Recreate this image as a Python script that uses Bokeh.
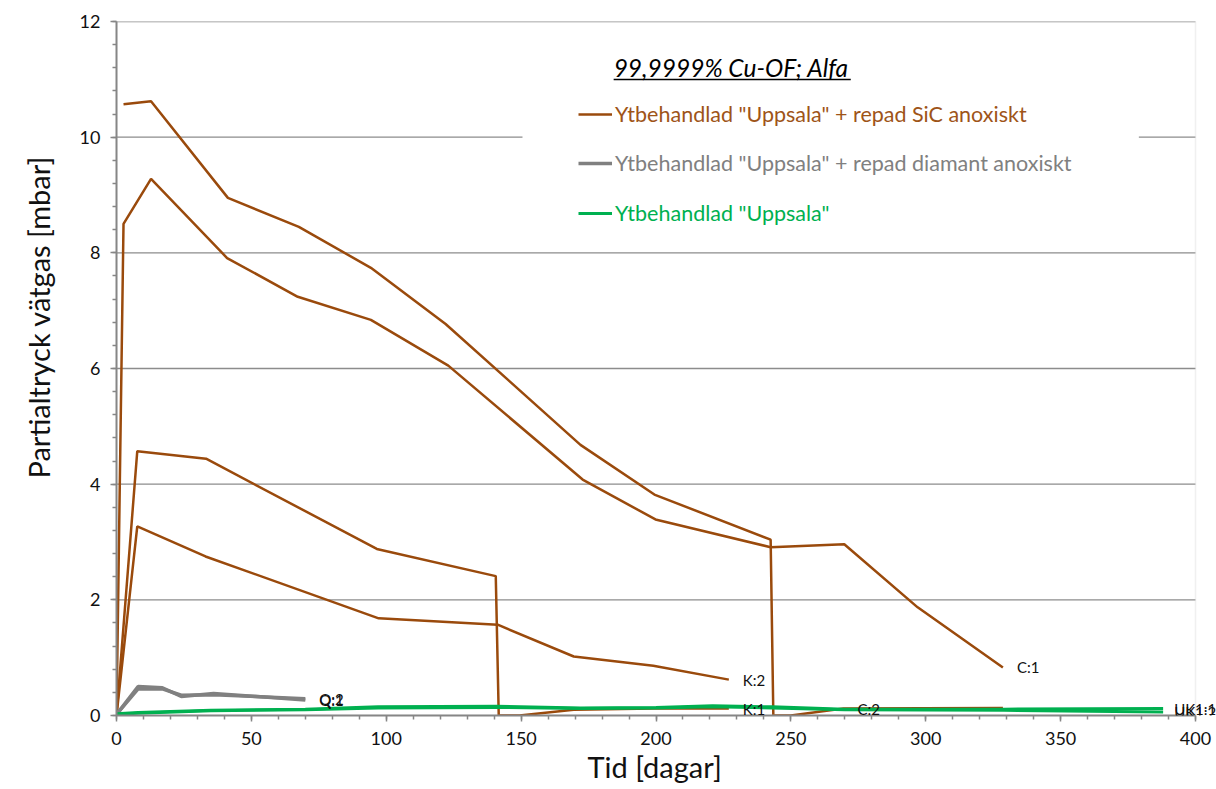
from bokeh.plotting import figure
from bokeh.models import (Range1d, Label, Legend, LegendItem, BoxAnnotation,
                          SingleIntervalTicker, Title)
from bokeh.embed import file_html
from bokeh.resources import INLINE

# ---------------- data ----------------
c1_x = [0, 2.6, 12.8, 41.0, 67.2, 94.3, 123.0, 172.8, 199.8, 242.5, 269.8, 297.0, 328.6]
c1_y = [0.0, 8.50, 9.28, 7.91, 7.24, 6.84, 6.05, 4.08, 3.39, 2.91, 2.96, 1.87, 0.83]

c2_x = [2.6, 12.8, 41.3, 67.6, 94.3, 122.0, 172.0, 199.4, 242.5, 243.5, 250.0, 269.5, 328.6]
c2_y = [10.57, 10.62, 8.95, 8.45, 7.74, 6.77, 4.68, 3.82, 3.04, 0.0, 0.0, 0.12, 0.13]

k1_x = [0, 7.7, 33.2, 96.5, 140.6, 141.7, 149.4, 169.5, 199.0, 227.0]
k1_y = [0.0, 4.57, 4.44, 2.88, 2.41, 0.0, 0.0, 0.10, 0.12, 0.12]

k2_x = [0, 7.7, 33.0, 97.2, 141.3, 169.5, 199.0, 227.0]
k2_y = [0.0, 3.27, 2.75, 1.68, 1.57, 1.02, 0.86, 0.62]

q_x = [0, 8, 17, 24, 36, 70]
q1_y = [0.02, 0.50, 0.48, 0.33, 0.38, 0.27]
q2_y = [0.02, 0.46, 0.46, 0.35, 0.36, 0.29]

uk_x = [0, 8, 35, 70, 97, 141, 172, 200, 221, 243, 270, 329, 388]
uk1_y = [0.03, 0.05, 0.09, 0.11, 0.15, 0.16, 0.13, 0.14, 0.17, 0.15, 0.11, 0.11, 0.12]
uk2_y = [0.02, 0.04, 0.08, 0.10, 0.13, 0.14, 0.12, 0.13, 0.15, 0.13, 0.10, 0.09, 0.06]

legend_title = "99,9999% Cu-OF; Alfa"
legend_labels = ['Ytbehandlad "Uppsala" + repad SiC anoxiskt',
                 'Ytbehandlad "Uppsala" + repad diamant anoxiskt',
                 'Ytbehandlad "Uppsala"']
x_title = "Tid [dagar]"
y_title = "Partialtryck vätgas [mbar]"

X_MAX, Y_MAX = 400, 12
grid_levels = list(range(2, Y_MAX + 1, 2))

BROWN = "#9A4A0C"
BROWN_TXT = "#9E5418"
GRAY = "#808080"
GREEN = "#00B050"
FONT = "Lato"

# frame spans 116..1216 px; the x axis (0..400) ends at 1195 px, leaving room for labels
x_end = X_MAX * 1100 / 1079

p = figure(width=1216, height=789, output_backend="svg", toolbar_location=None,
           x_range=Range1d(0, x_end), y_range=Range1d(0, Y_MAX),
           min_border_left=116, min_border_right=0, min_border_top=21,
           min_border_bottom=74)
p.background_fill_color = "white"
p.border_fill_color = "white"
p.outline_line_color = None

# axes
p.xaxis.ticker = SingleIntervalTicker(interval=50, num_minor_ticks=5)
p.yaxis.ticker = SingleIntervalTicker(interval=2, num_minor_ticks=5)
p.xaxis.bounds = (0, X_MAX)
for ax in (p.xaxis, p.yaxis):
    ax.axis_line_color = "#868686"
    ax.axis_line_width = 2
    ax.major_tick_line_color = "#868686"
    ax.minor_tick_line_color = "#868686"
    ax.major_tick_line_width = 1.5
    ax.minor_tick_line_width = 1.5
    ax.major_tick_in = 0
    ax.major_tick_out = 6
    ax.minor_tick_in = 0
    ax.minor_tick_out = 4
    ax.major_label_text_font = FONT
    ax.major_label_text_font_size = "18px"
    ax.major_label_text_color = "#111111"
p.xaxis.major_label_standoff = 10
p.yaxis.major_label_standoff = 10

# axis titles placed like the reference (not centred on the extended frame)
p.add_layout(Title(text=y_title, align="left", offset=237, standoff=38,
                   vertical_align="top",
                   text_font=FONT, text_font_size="29px", text_font_style="normal",
                   text_color="#111111"), "left")
p.add_layout(Title(text=x_title, align="left", offset=471, standoff=2,
                   vertical_align="top",
                   text_font=FONT, text_font_size="29px", text_font_style="normal",
                   text_color="#111111"), "below")

p.xgrid.visible = False
p.ygrid.visible = False

# horizontal grid lines limited to the axis extent, light frame border
p.segment(x0=0, x1=X_MAX, y0=grid_levels, y1=grid_levels,
          line_color="#8c8c8c", line_width=1.4, level="underlay")
p.add_layout(BoxAnnotation(left=0, right=X_MAX, bottom=0, top=Y_MAX,
                           fill_alpha=0.0, line_color="#cccccc", line_width=1.5,
                           level="underlay"))

# white legend background covering grid line
p.add_layout(BoxAnnotation(left=150.5, right=379.0, bottom=8.35, top=11.9,
                           fill_color="white", fill_alpha=1.0, line_color=None))

# series
r_c1 = p.line(c1_x, c1_y, line_color=BROWN, line_width=2.5)
r_c2 = p.line(c2_x, c2_y, line_color=BROWN, line_width=2.5)
r_k1 = p.line(k1_x, k1_y, line_color=BROWN, line_width=2.5)
r_k2 = p.line(k2_x, k2_y, line_color=BROWN, line_width=2.5)
r_q1 = p.line(q_x, q1_y, line_color=GRAY, line_width=3.5)
r_q2 = p.line(q_x, q2_y, line_color=GRAY, line_width=3.5)
r_u1 = p.line(uk_x, uk1_y, line_color=GREEN, line_width=3)
r_u2 = p.line(uk_x, uk2_y, line_color=GREEN, line_width=3)

# series name labels
def tag(name, xs, ys, i=-1, off=14):
    p.add_layout(Label(x=xs[i], y=ys[i], text=name, x_offset=off,
                       text_baseline="middle", text_font=FONT,
                       text_font_size="15px", text_color="#111111"))

tag("C:1", c1_x, c1_y)
tag("C:2", c2_x, c2_y, i=-2)
tag("K:1", k1_x, k1_y)
tag("K:2", k2_x, k2_y)
tag("Q:1", q_x, q1_y)
tag("Q:2", q_x, q2_y)
tag("UK1:1", uk_x, uk1_y, off=11)
tag("UK1:2", uk_x, uk2_y, off=11)

# legend title
p.add_layout(Label(x=184.3, y=11.21, text=legend_title, text_baseline="middle",
                   text_font=FONT, text_font_style="italic", text_font_size="24.5px",
                   text_color="#000000"))
p.add_layout(BoxAnnotation(left=184.3, right=272.2, bottom=10.985, top=11.012,
                           fill_color="black", fill_alpha=1.0, line_color=None))

# legends (one per entry so each gets its own text colour)
for rend, lab, col, ycen in ((r_c1, legend_labels[0], BROWN_TXT, 115),
                             (r_q1, legend_labels[1], GRAY, 164),
                             (r_u1, legend_labels[2], GREEN, 214)):
    lg = Legend(items=[LegendItem(label=lab, renderers=[rend])],
                location=(462, 715 - ycen - 12), padding=0, margin=0, spacing=0,
                glyph_width=34, glyph_height=24, label_height=24,
                label_standoff=3, border_line_color=None,
                background_fill_alpha=0.0, label_text_font=FONT,
                label_text_font_size="21.5px", label_text_color=col)
    p.add_layout(lg)

open("out.html", "w").write(file_html(p, INLINE))
